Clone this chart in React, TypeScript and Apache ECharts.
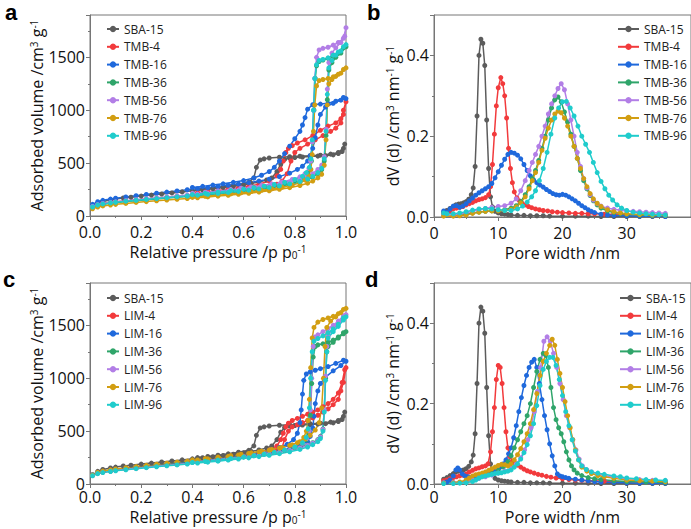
import React, { useEffect, useRef } from "react";
import * as echarts from "echarts";

// ---------- labels ----------
const namesTMB = ["SBA-15", "TMB-4", "TMB-16", "TMB-36", "TMB-56", "TMB-76", "TMB-96"];
const namesLIM = ["SBA-15", "LIM-4", "LIM-16", "LIM-36", "LIM-56", "LIM-76", "LIM-96"];
const seriesColors = ["#5c5c5c", "#f23a3c", "#1f69dc", "#2fa56a", "#b27ee6", "#d29e12", "#1fcccc"];

// ---------- isotherms (p/p0, cm3/g) : adsorption then desorption ----------
const isoSBA15 = [[0.01,85],[0.03,120],[0.05,138],[0.08,152],[0.1,160],[0.13,170],[0.16,178],[0.2,188],[0.24,198],[0.28,208],[0.32,218],[0.36,228],[0.4,238],[0.44,248],[0.48,258],[0.52,270],[0.56,282],[0.6,295],[0.63,308],[0.66,322],[0.69,340],[0.71,360],[0.73,420],[0.745,490],[0.76,535],[0.78,548],[0.8,553],[0.83,558],[0.86,562],[0.89,566],[0.92,570],[0.95,578],[0.97,590],[0.985,610],[0.995,680],
  [0.99,640],[0.97,600],[0.94,585],[0.9,575],[0.86,570],[0.82,565],[0.78,560],[0.74,555],[0.7,548],[0.68,540],[0.665,530],[0.65,460],[0.64,360],[0.62,318],[0.58,300],[0.54,285],[0.5,272],[0.46,260],[0.42,250]];

const isoTMB4 = [[0.01,88],[0.03,108],[0.05,118],[0.08,128],[0.1,134],[0.14,143],[0.18,152],[0.22,160],[0.26,168],[0.3,176],[0.34,184],[0.38,192],[0.42,200],[0.46,208],[0.5,217],[0.54,226],[0.58,236],[0.62,248],[0.66,262],[0.7,280],[0.73,300],[0.75,330],[0.77,400],[0.785,520],[0.8,600],[0.82,640],[0.85,680],[0.88,720],[0.91,760],[0.94,800],[0.96,830],[0.98,880],[0.99,960],[1.0,1080],
  [0.99,1000],[0.98,920],[0.96,880],[0.93,850],[0.9,810],[0.87,760],[0.84,720],[0.81,690],[0.79,665],[0.775,640],[0.765,600],[0.755,520],[0.745,440],[0.73,380],[0.7,330],[0.66,300],[0.62,280],[0.58,265],[0.54,252],[0.5,240],[0.46,230],[0.42,220]];

const isoTMB16 = [[0.01,110],[0.03,135],[0.05,148],[0.08,160],[0.1,168],[0.14,180],[0.18,192],[0.22,204],[0.26,215],[0.3,226],[0.34,237],[0.38,248],[0.42,258],[0.46,268],[0.5,279],[0.54,290],[0.58,302],[0.62,315],[0.66,330],[0.7,348],[0.74,372],[0.78,405],[0.81,440],[0.83,470],[0.85,520],[0.86,570],[0.87,640],[0.88,740],[0.89,860],[0.9,960],[0.92,1030],[0.95,1065],[0.98,1095],[1.0,1110],
  [0.99,1120],[0.96,1085],[0.93,1065],[0.9,1058],[0.87,1052],[0.85,1010],[0.84,930],[0.83,860],[0.82,800],[0.8,730],[0.78,660],[0.76,590],[0.74,520],[0.72,460],[0.7,420],[0.67,385],[0.64,360],[0.6,335],[0.56,318],[0.52,304],[0.48,292],[0.44,280],[0.4,270]];

const isoTMB36 = [[0.01,82],[0.03,100],[0.05,110],[0.08,120],[0.1,126],[0.14,136],[0.18,145],[0.22,153],[0.26,161],[0.3,169],[0.34,177],[0.38,185],[0.42,193],[0.46,201],[0.5,210],[0.54,219],[0.58,229],[0.62,240],[0.66,252],[0.7,265],[0.74,280],[0.78,298],[0.82,320],[0.85,345],[0.87,368],[0.89,400],[0.905,440],[0.915,520],[0.922,760],[0.927,1100],[0.933,1380],[0.945,1450],[0.96,1500],[0.98,1540],[1.0,1600],
  [0.99,1590],[0.97,1540],[0.95,1510],[0.93,1490],[0.91,1475],[0.895,1460],[0.885,1420],[0.88,1300],[0.875,1000],[0.87,700],[0.865,520],[0.86,440],[0.85,400],[0.83,365],[0.8,335],[0.76,310],[0.72,292],[0.68,277],[0.64,262],[0.6,250],[0.55,236],[0.5,222],[0.45,210],[0.4,198]];

const isoTMB56 = [[0.01,90],[0.03,108],[0.05,118],[0.08,128],[0.1,134],[0.14,144],[0.18,154],[0.22,163],[0.26,172],[0.3,180],[0.34,189],[0.38,198],[0.42,207],[0.46,216],[0.5,225],[0.54,235],[0.58,245],[0.62,257],[0.66,270],[0.7,285],[0.74,302],[0.78,322],[0.82,348],[0.85,375],[0.87,400],[0.89,440],[0.905,480],[0.915,560],[0.922,820],[0.927,1200],[0.933,1450],[0.945,1540],[0.96,1590],[0.98,1640],[0.995,1700],[1.0,1780],
  [0.99,1680],[0.97,1640],[0.95,1615],[0.93,1595],[0.91,1585],[0.895,1570],[0.885,1500],[0.878,1300],[0.873,1000],[0.868,700],[0.862,520],[0.855,450],[0.84,400],[0.82,370],[0.79,345],[0.75,322],[0.71,303],[0.67,288],[0.63,274],[0.59,262],[0.55,250],[0.5,237],[0.45,225],[0.4,214]];

const isoTMB76 = [[0.01,68],[0.03,85],[0.05,95],[0.08,104],[0.1,110],[0.14,119],[0.18,128],[0.22,136],[0.26,144],[0.3,151],[0.34,158],[0.38,165],[0.42,172],[0.46,180],[0.5,188],[0.54,196],[0.58,205],[0.62,215],[0.66,226],[0.7,238],[0.74,252],[0.78,268],[0.82,288],[0.85,310],[0.87,330],[0.89,360],[0.905,395],[0.915,480],[0.922,720],[0.927,1050],[0.933,1250],[0.945,1290],[0.96,1320],[0.98,1350],[1.0,1400],
  [0.99,1385],[0.97,1340],[0.95,1315],[0.93,1300],[0.91,1290],[0.895,1280],[0.885,1230],[0.878,1050],[0.873,800],[0.868,580],[0.863,440],[0.855,380],[0.84,340],[0.82,315],[0.79,292],[0.75,272],[0.71,256],[0.67,243],[0.63,231],[0.59,220],[0.55,209],[0.5,197],[0.45,186],[0.4,176]];

const isoTMB96 = [[0.01,85],[0.03,104],[0.05,114],[0.08,124],[0.1,130],[0.14,140],[0.18,149],[0.22,157],[0.26,165],[0.3,173],[0.34,181],[0.38,189],[0.42,197],[0.46,205],[0.5,214],[0.54,223],[0.58,233],[0.62,244],[0.66,256],[0.7,270],[0.74,285],[0.78,303],[0.82,326],[0.85,350],[0.87,375],[0.89,410],[0.905,450],[0.915,540],[0.922,800],[0.927,1150],[0.933,1400],[0.945,1470],[0.96,1520],[0.98,1560],[1.0,1620],
  [0.99,1600],[0.97,1550],[0.95,1520],[0.93,1495],[0.91,1480],[0.895,1470],[0.885,1430],[0.878,1300],[0.873,1000],[0.868,720],[0.863,540],[0.857,460],[0.845,410],[0.83,375],[0.8,345],[0.76,318],[0.72,298],[0.68,282],[0.64,267],[0.6,254],[0.55,240],[0.5,226],[0.45,214],[0.4,202]];

const isoLIM4 = [[0.01,80],[0.03,100],[0.05,112],[0.08,123],[0.1,130],[0.14,141],[0.18,151],[0.22,160],[0.26,169],[0.3,178],[0.34,187],[0.38,196],[0.42,205],[0.46,214],[0.5,224],[0.54,234],[0.58,245],[0.62,257],[0.66,270],[0.7,288],[0.73,310],[0.75,340],[0.76,420],[0.775,500],[0.79,540],[0.81,560],[0.83,580],[0.85,600],[0.87,625],[0.89,650],[0.91,680],[0.93,710],[0.95,750],[0.97,800],[0.98,880],[0.99,960],[1.0,1100],
  [0.995,1080],[0.985,960],[0.97,860],[0.95,800],[0.93,760],[0.91,730],[0.89,700],[0.87,680],[0.85,660],[0.83,640],[0.81,620],[0.79,600],[0.775,575],[0.765,540],[0.755,480],[0.745,420],[0.73,360],[0.7,320],[0.66,292],[0.62,275],[0.58,260],[0.54,248],[0.5,236],[0.46,225],[0.42,214]];

const isoLIM16 = [[0.01,88],[0.03,108],[0.05,120],[0.08,131],[0.1,138],[0.14,149],[0.18,160],[0.22,170],[0.26,180],[0.3,190],[0.34,199],[0.38,208],[0.42,217],[0.46,226],[0.5,236],[0.54,246],[0.58,257],[0.62,269],[0.66,282],[0.7,297],[0.74,314],[0.78,335],[0.82,362],[0.85,400],[0.86,450],[0.87,530],[0.875,640],[0.88,760],[0.89,880],[0.9,950],[0.92,1010],[0.95,1070],[0.98,1120],[1.0,1160],
  [0.99,1170],[0.96,1140],[0.93,1110],[0.9,1090],[0.88,1075],[0.86,1060],[0.845,1040],[0.835,980],[0.83,850],[0.825,700],[0.82,580],[0.81,480],[0.795,420],[0.77,375],[0.74,345],[0.7,318],[0.66,298],[0.62,282],[0.58,268],[0.54,256],[0.5,245],[0.46,234],[0.42,224]];

const isoLIM36 = [[0.01,82],[0.03,102],[0.05,113],[0.08,124],[0.1,131],[0.14,142],[0.18,152],[0.22,162],[0.26,171],[0.3,180],[0.34,189],[0.38,198],[0.42,207],[0.46,216],[0.5,226],[0.54,236],[0.58,247],[0.62,259],[0.66,272],[0.7,287],[0.74,303],[0.78,322],[0.82,345],[0.85,368],[0.87,390],[0.89,420],[0.9,450],[0.91,520],[0.915,700],[0.92,1000],[0.925,1250],[0.93,1300],[0.95,1340],[0.97,1380],[0.99,1420],[1.0,1440],
  [0.99,1430],[0.97,1390],[0.95,1360],[0.93,1340],[0.91,1325],[0.89,1315],[0.88,1300],[0.872,1200],[0.866,950],[0.861,650],[0.855,480],[0.845,420],[0.83,380],[0.8,345],[0.76,318],[0.72,298],[0.68,282],[0.64,268],[0.6,256],[0.55,242],[0.5,229],[0.45,217],[0.4,206]];

const isoLIM56 = [[0.01,82],[0.03,102],[0.05,112],[0.08,122],[0.1,129],[0.14,139],[0.18,149],[0.22,158],[0.26,167],[0.3,176],[0.34,185],[0.38,194],[0.42,203],[0.46,212],[0.5,222],[0.54,232],[0.58,243],[0.62,255],[0.66,268],[0.7,283],[0.74,299],[0.78,318],[0.82,341],[0.85,364],[0.87,386],[0.89,415],[0.9,445],[0.91,515],[0.915,700],[0.92,1020],[0.925,1300],[0.93,1400],[0.95,1480],[0.97,1530],[0.99,1580],[1.0,1600],
  [0.99,1590],[0.97,1540],[0.95,1500],[0.93,1470],[0.91,1440],[0.89,1410],[0.878,1390],[0.872,1300],[0.866,1000],[0.861,700],[0.856,500],[0.846,430],[0.83,385],[0.8,350],[0.76,322],[0.72,301],[0.68,285],[0.64,270],[0.6,258],[0.55,244],[0.5,231],[0.45,219],[0.4,208]];

const isoLIM76 = [[0.01,85],[0.03,110],[0.05,122],[0.08,134],[0.1,142],[0.14,154],[0.18,165],[0.22,176],[0.26,187],[0.3,197],[0.34,207],[0.38,217],[0.42,227],[0.46,238],[0.5,249],[0.54,261],[0.58,274],[0.62,288],[0.66,303],[0.7,320],[0.74,340],[0.78,365],[0.81,390],[0.84,425],[0.86,460],[0.88,510],[0.895,580],[0.905,720],[0.912,1000],[0.918,1300],[0.925,1480],[0.94,1540],[0.96,1580],[0.98,1620],[1.0,1660],
  [0.99,1650],[0.97,1610],[0.95,1585],[0.93,1570],[0.91,1555],[0.89,1530],[0.875,1480],[0.868,1380],[0.862,1100],[0.857,800],[0.852,600],[0.845,500],[0.835,440],[0.82,400],[0.79,370],[0.75,345],[0.71,326],[0.67,310],[0.63,295],[0.59,282],[0.55,269],[0.5,254],[0.45,240],[0.4,228]];

const isoLIM96 = [[0.01,78],[0.03,98],[0.05,108],[0.08,118],[0.1,125],[0.14,135],[0.18,145],[0.22,154],[0.26,163],[0.3,172],[0.34,180],[0.38,189],[0.42,198],[0.46,207],[0.5,216],[0.54,226],[0.58,236],[0.62,247],[0.66,259],[0.7,272],[0.74,287],[0.78,305],[0.82,327],[0.85,350],[0.87,372],[0.89,400],[0.9,430],[0.91,500],[0.915,680],[0.92,980],[0.925,1250],[0.93,1380],[0.95,1440],[0.97,1490],[0.99,1550],[1.0,1580],
  [0.99,1570],[0.97,1510],[0.95,1465],[0.93,1430],[0.91,1400],[0.89,1375],[0.875,1350],[0.868,1250],[0.862,1000],[0.857,720],[0.852,520],[0.845,440],[0.83,390],[0.8,350],[0.76,320],[0.72,298],[0.68,281],[0.64,267],[0.6,254],[0.55,240],[0.5,226],[0.45,214],[0.4,203]];

// ---------- pore size distributions (nm, dV(d)) ----------
const psdSBA15 = [[1.5,0.012],[2.0,0.016],[2.5,0.021],[3.0,0.026],[3.4,0.03],[3.8,0.032],[4.2,0.033],[4.6,0.035],[5.0,0.038],[5.4,0.044],[5.8,0.055],[6.1,0.072],[6.4,0.125],[6.7,0.25],[7.0,0.40],[7.3,0.44],[7.6,0.43],[7.9,0.375],[8.2,0.24],[8.5,0.12],[8.8,0.05],[9.1,0.025],[9.5,0.014],[10,0.01],[10.5,0.008],[11,0.007],[11.5,0.006],[12,0.005],[13,0.004],[14,0.004],[15,0.003],[16,0.003],[17,0.003],[18,0.002],[20,0.002],[22,0.002],[24,0.002],[26,0.001],[28,0.001],[30,0.001],[32,0.001],[34,0.001],[36,0.001]];

const psdTMB4 = [[1.5,0.01],[2,0.012],[2.5,0.015],[3,0.02],[3.5,0.022],[4,0.024],[4.5,0.026],[5,0.03],[5.5,0.033],[6,0.036],[6.5,0.04],[7,0.043],[7.5,0.045],[8,0.048],[8.5,0.055],[8.8,0.075],[9.1,0.13],[9.4,0.205],[9.7,0.275],[10,0.32],[10.4,0.345],[10.7,0.33],[11,0.3],[11.3,0.245],[11.6,0.17],[11.9,0.12],[12.2,0.085],[12.5,0.062],[12.9,0.047],[13.3,0.04],[13.7,0.034],[14.2,0.03],[14.7,0.026],[15.2,0.023],[15.8,0.02],[16.4,0.018],[17,0.016],[17.7,0.015],[18.4,0.013],[19.2,0.012],[20,0.011],[21,0.01],[22,0.009],[23,0.009],[24,0.008],[25,0.008],[26.5,0.007],[28,0.007],[30,0.006],[32,0.005],[34,0.005],[36,0.005]];

const psdTMB16 = [[1.5,0.015],[2,0.012],[2.5,0.02],[3,0.027],[3.5,0.028],[4,0.024],[4.5,0.027],[5,0.033],[5.5,0.04],[6,0.047],[6.5,0.054],[7,0.06],[7.5,0.065],[8,0.07],[8.5,0.075],[9,0.083],[9.5,0.097],[10,0.112],[10.5,0.128],[11,0.143],[11.5,0.155],[12,0.16],[12.5,0.158],[13,0.153],[13.5,0.144],[14,0.13],[14.5,0.115],[15,0.102],[15.5,0.092],[16,0.085],[16.5,0.079],[17,0.074],[17.5,0.068],[18,0.063],[18.5,0.058],[19,0.055],[19.5,0.054],[20,0.056],[20.5,0.054],[21,0.05],[21.5,0.045],[22,0.04],[22.5,0.034],[23,0.028],[23.5,0.023],[24,0.018],[24.5,0.014],[25,0.011],[26,0.007],[27,0.005],[28,0.004],[30,0.003],[32,0.002],[34,0.002],[36,0.001]];

const psdTMB36 = [[1.5,0.004],[3,0.004],[4,0.005],[5,0.007],[6,0.01],[7,0.012],[8,0.014],[9,0.015],[10,0.016],[11,0.018],[12,0.022],[12.8,0.028],[13.5,0.038],[14.2,0.055],[14.8,0.075],[15.3,0.095],[15.8,0.115],[16.3,0.14],[16.8,0.17],[17.3,0.2],[17.8,0.24],[18.3,0.27],[18.8,0.29],[19.3,0.297],[19.8,0.285],[20.3,0.26],[20.8,0.235],[21.3,0.205],[21.8,0.175],[22.3,0.145],[22.8,0.115],[23.3,0.09],[23.8,0.07],[24.3,0.053],[24.8,0.04],[25.4,0.03],[26,0.022],[27,0.015],[28,0.011],[29,0.009],[30,0.007],[32,0.005],[34,0.004],[36,0.004]];

const psdTMB56 = [[1.5,0.004],[3,0.005],[4,0.007],[5,0.01],[6,0.014],[7,0.018],[8,0.021],[9,0.024],[10,0.026],[11,0.028],[12,0.034],[12.8,0.045],[13.5,0.065],[14.2,0.09],[14.8,0.115],[15.3,0.135],[15.8,0.155],[16.3,0.175],[16.8,0.2],[17.3,0.225],[17.8,0.255],[18.3,0.28],[18.8,0.3],[19.3,0.318],[19.8,0.33],[20.3,0.315],[20.8,0.28],[21.3,0.24],[21.8,0.2],[22.3,0.16],[22.8,0.125],[23.3,0.095],[23.8,0.072],[24.3,0.055],[24.8,0.042],[25.4,0.033],[26,0.027],[27,0.022],[28,0.019],[29,0.017],[30,0.015],[31,0.014],[32,0.013],[33,0.012],[34,0.011],[35,0.01],[36,0.009]];

const psdTMB76 = [[1.5,0.002],[3,0.002],[4,0.003],[5,0.005],[6,0.009],[7,0.012],[8,0.014],[9,0.015],[10,0.015],[11,0.016],[12,0.019],[12.8,0.025],[13.5,0.035],[14.2,0.05],[14.8,0.07],[15.3,0.09],[15.8,0.11],[16.3,0.135],[16.8,0.165],[17.3,0.195],[17.8,0.22],[18.3,0.24],[18.8,0.255],[19.3,0.262],[19.8,0.258],[20.3,0.245],[20.8,0.225],[21.3,0.2],[21.8,0.175],[22.3,0.145],[22.8,0.12],[23.3,0.095],[23.8,0.075],[24.3,0.058],[24.8,0.045],[25.4,0.034],[26,0.026],[27,0.018],[28,0.013],[29,0.01],[30,0.008],[32,0.006],[34,0.005],[36,0.004]];

const psdTMB96 = [[1.5,0.01],[2,0.008],[3,0.008],[4,0.01],[5,0.013],[6,0.017],[7,0.02],[8,0.021],[9,0.02],[10,0.018],[11,0.016],[12,0.016],[13,0.02],[13.8,0.027],[14.5,0.037],[15.2,0.05],[15.8,0.065],[16.4,0.09],[17,0.12],[17.6,0.16],[18.2,0.205],[18.8,0.245],[19.4,0.27],[20,0.285],[20.6,0.286],[21.2,0.27],[21.8,0.25],[22.4,0.225],[23,0.2],[23.6,0.18],[24.2,0.16],[24.8,0.135],[25.4,0.11],[26,0.088],[26.6,0.07],[27.2,0.054],[27.8,0.042],[28.5,0.03],[29.2,0.022],[30,0.016],[31,0.012],[32,0.01],[33,0.008],[34,0.007],[35,0.006],[36,0.005]];

const psdLIM4 = [[1.5,0.008],[2,0.01],[2.5,0.013],[3,0.016],[3.5,0.018],[4,0.02],[4.5,0.022],[5,0.025],[5.5,0.03],[6,0.034],[6.5,0.038],[7,0.04],[7.5,0.043],[8,0.045],[8.4,0.05],[8.8,0.08],[9.1,0.13],[9.4,0.19],[9.7,0.26],[10,0.295],[10.3,0.29],[10.6,0.25],[10.9,0.19],[11.2,0.13],[11.5,0.09],[11.8,0.068],[12.2,0.057],[12.6,0.052],[13,0.047],[13.5,0.042],[14,0.037],[14.5,0.033],[15,0.03],[15.6,0.027],[16.2,0.024],[16.8,0.022],[17.5,0.019],[18.2,0.017],[19,0.015],[20,0.013],[21,0.011],[22,0.01],[23,0.009],[24,0.008],[25,0.008],[26.5,0.007],[28,0.006],[30,0.005],[32,0.005],[34,0.004],[36,0.004]];

const psdLIM16 = [[1.5,0.003],[2,0.005],[2.5,0.01],[3,0.02],[3.4,0.035],[3.7,0.04],[4,0.035],[4.4,0.025],[4.8,0.02],[5.3,0.018],[5.8,0.016],[6.3,0.016],[6.8,0.018],[7.3,0.02],[7.8,0.022],[8.3,0.025],[8.8,0.028],[9.3,0.032],[9.8,0.036],[10.3,0.042],[10.8,0.05],[11.2,0.06],[11.6,0.075],[12,0.09],[12.4,0.115],[12.8,0.145],[13.2,0.18],[13.6,0.215],[14,0.245],[14.4,0.27],[14.8,0.29],[15.2,0.303],[15.6,0.31],[16,0.29],[16.4,0.25],[16.8,0.21],[17.2,0.17],[17.6,0.135],[18,0.1],[18.4,0.07],[18.8,0.045],[19.2,0.025],[19.6,0.02],[20,0.018],[20.5,0.016],[21,0.014],[22,0.012],[23,0.01],[24,0.008],[25,0.006],[26,0.005],[28,0.004],[30,0.003],[32,0.002],[34,0.002],[36,0.002]];

const psdLIM36 = [[1.5,0.002],[3,0.003],[5,0.006],[6,0.01],[7,0.015],[8,0.02],[9,0.026],[10,0.034],[10.8,0.042],[11.5,0.055],[12,0.07],[12.5,0.09],[13,0.11],[13.5,0.13],[14,0.15],[14.5,0.17],[15,0.2],[15.5,0.24],[16,0.28],[16.5,0.31],[17,0.325],[17.4,0.32],[17.8,0.29],[18.2,0.24],[18.6,0.19],[19,0.16],[19.4,0.14],[19.8,0.125],[20.2,0.105],[20.6,0.08],[21,0.06],[21.4,0.045],[21.8,0.035],[22.3,0.027],[23,0.021],[24,0.016],[25,0.013],[26,0.011],[28,0.008],[30,0.006],[33,0.005],[36,0.004]];

const psdLIM56 = [[1.5,0.003],[3,0.004],[5,0.007],[6,0.01],[7,0.014],[8,0.018],[9,0.022],[10,0.027],[11,0.032],[12,0.04],[12.8,0.05],[13.5,0.065],[14.1,0.085],[14.6,0.11],[15.1,0.14],[15.6,0.18],[16.1,0.23],[16.6,0.29],[17.1,0.355],[17.6,0.366],[18.1,0.355],[18.6,0.325],[19.1,0.29],[19.6,0.25],[20.1,0.21],[20.6,0.17],[21.1,0.14],[21.6,0.11],[22.1,0.085],[22.6,0.062],[23.1,0.045],[23.8,0.035],[24.5,0.03],[25.5,0.025],[26.5,0.021],[28,0.017],[30,0.013],[32,0.011],[34,0.009],[36,0.008]];

const psdLIM76 = [[1.5,0.002],[3,0.003],[4,0.005],[5,0.01],[5.5,0.015],[6,0.02],[6.5,0.023],[7,0.025],[7.5,0.027],[8,0.03],[8.5,0.034],[9,0.038],[9.5,0.042],[10,0.046],[10.5,0.049],[11,0.048],[11.5,0.045],[12,0.05],[12.5,0.06],[13,0.073],[13.5,0.088],[14,0.105],[14.5,0.125],[15,0.15],[15.5,0.185],[16,0.225],[16.5,0.27],[17,0.305],[17.5,0.325],[18,0.345],[18.4,0.36],[18.8,0.345],[19.2,0.31],[19.6,0.275],[20,0.24],[20.4,0.205],[20.8,0.17],[21.2,0.14],[21.6,0.11],[22,0.085],[22.5,0.06],[23,0.042],[23.8,0.032],[24.5,0.026],[25.5,0.021],[26.5,0.018],[28,0.014],[30,0.01],[32,0.008],[34,0.007],[36,0.006]];

const psdLIM96 = [[1.5,0.001],[3,0.001],[4,0.002],[5,0.003],[6,0.006],[6.5,0.01],[7,0.015],[7.5,0.018],[8,0.02],[8.5,0.022],[9,0.024],[9.5,0.026],[10,0.027],[10.5,0.028],[11,0.03],[11.5,0.032],[12,0.035],[12.5,0.042],[13,0.05],[13.5,0.062],[14,0.078],[14.5,0.098],[15,0.12],[15.5,0.15],[16,0.195],[16.5,0.245],[17,0.285],[17.5,0.305],[18,0.315],[18.5,0.315],[19,0.295],[19.5,0.26],[20,0.22],[20.5,0.18],[21,0.145],[21.5,0.11],[22,0.082],[22.5,0.06],[23,0.045],[23.7,0.036],[24.5,0.03],[25.5,0.027],[26.5,0.024],[28,0.02],[29,0.018],[30,0.015],[31.5,0.013],[33,0.011],[34.5,0.01],[36,0.009]];

const panelA = [isoSBA15, isoTMB4, isoTMB16, isoTMB36, isoTMB56, isoTMB76, isoTMB96];
const panelB = [psdSBA15, psdTMB4, psdTMB16, psdTMB36, psdTMB56, psdTMB76, psdTMB96];
const panelC = [isoSBA15, isoLIM4, isoLIM16, isoLIM36, isoLIM56, isoLIM76, isoLIM96];
const panelD = [psdSBA15, psdLIM4, psdLIM16, psdLIM36, psdLIM56, psdLIM76, psdLIM96];

// ---------- styling ----------
const FONT = "Open Sans";
const AXIS_GRAY = "#767676";
const lineStyle = { color: AXIS_GRAY, width: 1 };

const nameRich = {
  n: { fontSize: 16, fontFamily: FONT, color: "#111", lineHeight: 16 },
  s: { fontSize: 10, fontFamily: FONT, color: "#111", verticalAlign: "top" as const, lineHeight: 16 },
  b: { fontSize: 10, fontFamily: FONT, color: "#111", verticalAlign: "bottom" as const, lineHeight: 16 },
};

function xAxisCfg(grid: number, max: number, interval: number, fmt: (v: number) => string, name: string, labelMargin: number, gap: number) {
  return {
    gridIndex: grid, type: "value", min: 0, max, interval,
    axisLine: { show: true, onZero: false, lineStyle },
    axisTick: { show: true, length: 4, lineStyle },
    minorTick: { show: true, splitNumber: 2, length: 2, lineStyle },
    splitLine: { show: false },
    axisLabel: { fontSize: 16, lineHeight: 16, fontFamily: FONT, color: "#111", margin: labelMargin, formatter: fmt, showMaxLabel: max === 1 },
    name, nameLocation: "middle", nameGap: gap,
    nameTextStyle: { fontSize: 16, fontFamily: FONT, color: "#111", rich: nameRich },
  };
}

function yAxisCfg(grid: number, max: number, interval: number, fmt: (v: number) => string, name: string, gap: number) {
  return {
    gridIndex: grid, type: "value", min: 0, max, interval,
    axisLine: { show: true, onZero: false, lineStyle },
    axisTick: { show: true, length: 4, lineStyle },
    minorTick: { show: true, splitNumber: 2, length: 2, lineStyle },
    splitLine: { show: false },
    axisLabel: { fontSize: 16, lineHeight: 16, fontFamily: FONT, color: "#111", margin: 5, formatter: fmt, showMaxLabel: false },
    name, nameLocation: "middle", nameGap: gap,
    nameTextStyle: { fontSize: 16, fontFamily: FONT, color: "#111", rich: nameRich },
  };
}

function makeSeries(datas: number[][][], names: string[], axisIndex: number) {
  return datas.map((d, i) => ({
    type: "line",
    name: names[i],
    data: d,
    xAxisIndex: axisIndex,
    yAxisIndex: axisIndex,
    symbol: "circle",
    symbolSize: 5,
    showSymbol: true,
    clip: true,
    lineStyle: { width: 1.5, color: seriesColors[i] },
    itemStyle: { color: seriesColors[i] },
    emphasis: { disabled: true },
  }));
}

function legendCfg(names: string[], left: number, top: number, itemWidth: number) {
  return {
    data: names, orient: "vertical", left, top,
    itemWidth, itemHeight: 8, itemGap: 5.8,
    textStyle: { fontSize: 12, fontFamily: FONT, color: "#222", lineHeight: 12 },
    selectedMode: false,
  };
}

const fmt1 = (v: number) => v.toFixed(1);
const fmt0 = (v: number) => String(Math.round(v));

const letterStyle = (t: string) => ({ text: t, font: 'bold 22px "Liberation Sans"', fill: "#000" });

export default function App() {
  const ref = useRef<HTMLDivElement>(null);
  useEffect(() => {
    if (!ref.current) return;
    const chart = echarts.init(ref.current, null, { renderer: "svg" });
    const gridBase = { show: true, borderColor: AXIS_GRAY, borderWidth: 1, backgroundColor: "transparent", containLabel: false };
    chart.setOption({
      animation: false,
      backgroundColor: "#fff",
      grid: [
        { ...gridBase, left: 90, top: 15, width: 256, height: 201 },
        { ...gridBase, left: 434, top: 15, width: 276, height: 202 },
        { ...gridBase, left: 90, top: 283, width: 256, height: 201 },
        { ...gridBase, left: 434, top: 283, width: 276, height: 201 },
      ],
      xAxis: [
        xAxisCfg(0, 1, 0.2, fmt1, "{n|Relative pressure /p p}{b|0}{s|-1}", 8, 28),
        xAxisCfg(1, 40, 10, fmt0, "{n|Pore width /nm}", 8, 28),
        xAxisCfg(2, 1, 0.2, fmt1, "{n|Relative pressure /p p}{b|0}{s|-1}", 5, 25),
        xAxisCfg(3, 40, 10, fmt0, "{n|Pore width /nm}", 5, 25),
      ],
      yAxis: [
        yAxisCfg(0, 1900, 500, fmt0, "{n|Adsorbed volume /cm}{s|3}{n| g}{s|-1}", 44),
        yAxisCfg(1, 0.5, 0.2, fmt1, "{n|dV (d) /cm}{s|3}{n| nm}{s|-1}{n| g}{s|-1}", 33),
        yAxisCfg(2, 1900, 500, fmt0, "{n|Adsorbed volume /cm}{s|3}{n| g}{s|-1}", 44),
        yAxisCfg(3, 0.5, 0.2, fmt1, "{n|dV (d) /cm}{s|3}{n| nm}{s|-1}{n| g}{s|-1}", 33),
      ],
      legend: [
        legendCfg(namesTMB, 101, 18, 12),
        legendCfg(namesTMB, 612, 18, 21),
        legendCfg(namesLIM, 101, 287, 12),
        legendCfg(namesLIM, 614, 287, 21),
      ],
      graphic: [
        { type: "text", left: 5, top: 1, style: letterStyle("a") },
        { type: "text", left: 367, top: 1, style: letterStyle("b") },
        { type: "text", left: 3, top: 268, style: letterStyle("c") },
        { type: "text", left: 365, top: 268, style: letterStyle("d") },
      ],
      series: [
        ...makeSeries(panelA, namesTMB, 0),
        ...makeSeries(panelB, namesTMB, 1),
        ...makeSeries(panelC, namesLIM, 2),
        ...makeSeries(panelD, namesLIM, 3),
      ],
    });
    return () => chart.dispose();
  }, []);
  return <div ref={ref} style={{ position: "fixed", left: 0, top: 0, width: 691, height: 529, background: "#fff" }} />;
}
